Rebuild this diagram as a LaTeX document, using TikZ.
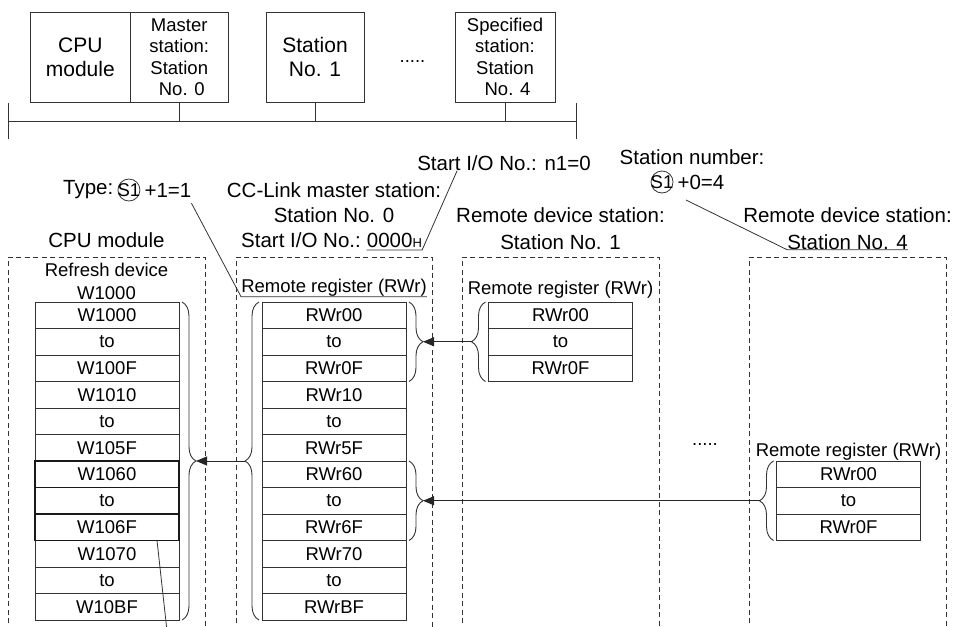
\documentclass[tikz,border=0pt]{standalone}
\usepackage{fontspec}
\setmainfont{Liberation Sans}
\usetikzlibrary{arrows.meta, positioning, decorations.pathreplacing}
\tikzset{
    stbox/.style={draw=black!80, line width=0.9pt, align=center, minimum height=90pt, inner sep=0pt, outer sep=0pt, font=\fontsize{18.5}{21.5}\selectfont},
    cell/.style={draw=black!80, line width=0.9pt, minimum width=144pt, minimum height=26.5pt, inner sep=0pt, outer sep=0pt, font=\fontsize{18.5}{20}\selectfont},
    boldrow/.style={draw=black!90, line width=1.8pt},
    lbl/.style={inner sep=0pt, font=\fontsize{20.5}{25}\selectfont},
    reglbl/.style={inner sep=0pt, font=\fontsize{18.5}{20}\selectfont},
    sone/.style={draw=black!80, circle, line width=0.8pt, inner sep=0pt, minimum size=22pt, font=\fontsize{18.5}{18.5}\selectfont},
    dashframe/.style={draw=black!80, line width=0.9pt, dash pattern=on 5pt off 3.5pt},
    arrow/.style={-{Triangle[length=11pt,width=9pt]}, line width=0.9pt, black!85},
    curly/.style={decorate, decoration={brace, amplitude=14pt}, line width=0.9pt, black!80},
    leader/.style={line width=0.8pt, black!80}
}

\begin{document}
\begin{tikzpicture}[x=1pt, y=-1pt]
    \useasboundingbox (0,0) rectangle (957,626);

    % network at the top
    \node [stbox, minimum width=99.4pt, font=\fontsize{21}{24}\selectfont] (cpu) at (80.3,57) {CPU\\module};
    \node [stbox, minimum width=98.5pt, right=0pt of cpu] (mst) {Master\\station:\\Station\\\ No. 0};
    \node [stbox, minimum width=98pt, font=\fontsize{21}{24}\selectfont] (st1) at (315,57) {Station\\No. 1};
    \node [reglbl] (dots1) at (412.5,62) {.....};
    \node [stbox, minimum width=100pt] (spec) at (505,57) {Specified\\station:\\Station\\\ No. 4};
    \coordinate (busl) at (8,121);
    \coordinate (busr) at (576,121);
    \draw [leader] (busl) -- (busr);
    \draw [leader] ([yshift=18pt]busl) -- ([yshift=-18pt]busl);
    \draw [leader] ([yshift=18pt]busr) -- ([yshift=-18pt]busr);
    \foreach \stn in {mst, st1, spec}
        \draw [leader] (\stn.south) -- (\stn.south |- busl);

    % titles
    \node [lbl] (n1lbl) at (504,163) {Start I/O No.: n1=0};
    \node [lbl] (snlbl) at (692,157) {Station number:};
    \node [sone] (sncirc) at (662,182) {\makebox[0pt]{S1}};
    \node [lbl, right=4pt of sncirc] (snval) {+0=4};
    \node [lbl, anchor=west] (typelbl) at (63,190) {Type:};
    \node [sone, right=4pt of typelbl] (typecirc) {\makebox[0pt]{S1}};
    \node [lbl, right=4pt of typecirc] (typeval) {+1=1};
    \node [lbl] (cpuhd) at (106.5,240) {CPU module};
    \node [lbl] (mhd) at (334,190) {CC-Link master station:};
    \node [lbl] (mno) at (334,215) {Station No. 0};
    \node [lbl, anchor=base west] (mio) at (241,247) {Start I/O No.:};
    \node [lbl, anchor=base west] (mionum) at ([xshift=5.7pt]mio.base east) {0000{\fontsize{13}{13}\selectfont H}};
    \node [lbl] (s1hd) at (560.5,215) {Remote device station:};
    \node [lbl] (s1no) at (560.5,242) {Station No. 1};
    \node [lbl] (s4hd) at (847.5,215) {Remote device station:};
    \node [lbl] (s4no) at (847.5,242) {Station No. 4};

    % dashed module frames, open at the bottom
    \foreach \xl/\xr in {8/205, 236/432, 462/659, 749/946}
        \draw [dashframe] (\xl,640) |- (\xr,257) -- (\xr,640);

    \node [reglbl] (rfsh) at (106.5,270) {Refresh device};
    \node [reglbl] (rfshw) at (106.5,293) {W1000};
    \node [reglbl] (mreg) at (334,288) {Remote register (RWr)};
    \node [reglbl] (s1reg) at (560.5,290) {Remote register (RWr)};
    \node [reglbl] (s4reg) at (848.5,452) {Remote register (RWr)};
    \node [reglbl] (dots2) at (705,445) {.....};

    % refresh devices of the CPU module
    \node [cell] (w1) at (107,315.25) {W1000};
    \foreach \txt [count=\i from 2] in {to, W100F, W1010, to, W105F, W1060, to, W106F, W1070, to, W10BF} {
        \pgfmathtruncatemacro{\j}{\i-1}
        \node [cell, below=0pt of w\j] (w\i) {\txt};
    }
    \foreach \k in {7,8,9}
        \draw [boldrow] (w\k.north west) rectangle (w\k.south east);

    % remote registers of the master station
    \node [cell] (rm1) at (334,315.25) {RWr00};
    \foreach \txt [count=\i from 2] in {to, RWr0F, RWr10, to, RWr5F, RWr60, to, RWr6F, RWr70, to, RWrBF} {
        \pgfmathtruncatemacro{\j}{\i-1}
        \node [cell, below=0pt of rm\j] (rm\i) {\txt};
    }

    % remote registers of station 1 and station 4
    \node [cell] (s1a) at (560.5,315.25) {RWr00};
    \node [cell, below=0pt of s1a] (s1b) {to};
    \node [cell, below=0pt of s1b] (s1c) {RWr0F};
    \node [cell] (s4a) at (848.5,474.25) {RWr00};
    \node [cell, below=0pt of s4a] (s4b) {to};
    \node [cell, below=0pt of s4b] (s4c) {RWr0F};

    % braces
    \draw [curly] ([xshift=3pt]w1.north east) -- ([xshift=3pt]w12.south east);
    \draw [curly] ([xshift=-3pt]rm12.south west) -- ([xshift=-3pt]rm1.north west);
    \draw [curly] ([xshift=3pt]rm1.north east) -- ([xshift=3pt]rm3.south east);
    \draw [curly] ([xshift=3pt]rm7.north east) -- ([xshift=3pt]rm9.south east);
    \draw [curly] ([xshift=-3pt]s1c.south west) -- ([xshift=-3pt]s1a.north west);
    \draw [curly] ([xshift=-3pt]s4c.south west) -- ([xshift=-3pt]s4a.north west);

    % data flow
    \draw [arrow] ([xshift=-17pt]s1b.west) -- ([xshift=17pt]rm2.east);
    \draw [arrow] ([xshift=-17pt]s4b.west) -- ([xshift=17pt]rm8.east);
    \draw [arrow] ([xshift=-17pt]rm6.south west) -- ([xshift=17pt]w6.south east);

    % leader lines
    \draw [leader] ([yshift=-6pt]typeval.south east) -- (mreg.south west) -- (mreg.south east);
    \draw [leader] ([yshift=-3pt]mionum.base west) -- ([yshift=-3pt]mionum.base east) -- ([xshift=40pt]n1lbl.south west);
    \draw [leader] ([xshift=16pt,yshift=-10pt]sncirc.south east) -- (s4no.south west) -- (s4no.south east);
    \coordinate (wnote) at (168,640);
    \draw [leader] ([xshift=-22pt]w9.south east) -- (wnote);
\end{tikzpicture}
\end{document}
